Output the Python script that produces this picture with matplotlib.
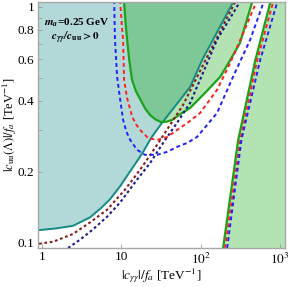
import numpy as np
import matplotlib
matplotlib.use('Agg')
import matplotlib.pyplot as plt
from matplotlib.ticker import NullLocator

plt.rcParams['font.family'] = ['Liberation Serif', 'DejaVu Serif']
plt.rcParams['mathtext.fontset'] = 'stix'

x_lim = [0.89, 1150]
y_lim = [0.095, 1.05]

# teal bound (filled above / left)
teal_x = [0.89, 1.5, 2.46, 4.0, 5.5, 7.2, 9.8, 12.5, 15.8, 18.8, 24, 32.6, 73.5, 104, 256, 280]
teal_y = [0.113, 0.115, 0.118, 0.128, 0.140, 0.153, 0.175, 0.198, 0.222, 0.243, 0.28, 0.323, 0.458, 0.596, 1.05, 1.12]

# green U bound (filled inside)
green_u_x = [10.6, 10.8, 11.3, 11.8, 12.6, 13.6, 15.2, 17.2, 20, 23.0, 27, 31.6, 37, 43.6, 58.0, 73.5, 113, 176, 235, 312, 444, 480]
green_u_y = [1.12, 1.05, 0.85, 0.725, 0.59, 0.491, 0.44, 0.407, 0.37, 0.348, 0.333, 0.325, 0.326, 0.332, 0.355, 0.373, 0.432, 0.506, 0.596, 0.704, 1.05, 1.12]

# green right bound (filled to the right)
green_r_x = [185, 191, 296, 487, 753, 800]
green_r_y = [0.09, 0.095, 0.273, 0.596, 1.05, 1.12]

red_u_x = [9.62, 10.1, 10.5, 10.8, 11.8, 13.7, 15.3, 17.2, 21.7, 28.2, 37.8, 50.4, 67.4, 98, 160, 235, 343, 500]
red_u_y = [1.07, 0.85, 0.725, 0.491, 0.41, 0.342, 0.318, 0.301, 0.278, 0.273, 0.281, 0.301, 0.322, 0.355, 0.445, 0.58, 0.776, 1.05]
red_r_x = [202, 314, 514, 816]
red_r_y = [0.095, 0.273, 0.596, 1.05]

blue_u_x = [8.1, 8.3, 8.83, 9.6, 10.5, 11.6, 12.9, 15.7, 19.8, 28.2, 37.6, 50.3, 67.1, 89.8, 160, 255, 418, 620]
blue_u_y = [1.07, 0.725, 0.506, 0.41, 0.332, 0.295, 0.273, 0.248, 0.236, 0.236, 0.243, 0.255, 0.265, 0.281, 0.355, 0.506, 0.725, 1.05]
blue_r_x = [215, 325, 560, 920]
blue_r_y = [0.095, 0.273, 0.596, 1.05]

dred_x = [0.917, 1.38, 2.46, 4.03, 6.6, 11.1, 17.2, 28.1, 41, 60, 107, 271]
dred_y = [0.099, 0.101, 0.109, 0.122, 0.138, 0.168, 0.204, 0.26, 0.316, 0.385, 0.568, 1.05]

navy_x = [2.13, 3.01, 4.39, 6.6, 9.6, 15.7, 23, 33.5, 50.3, 73.5, 160, 310]
navy_y = [0.095, 0.103, 0.114, 0.129, 0.148, 0.185, 0.218, 0.265, 0.323, 0.392, 0.725, 1.05]

y_ticks = [0.1, 0.2, 0.3, 0.4, 0.5, 0.6, 0.7, 0.8, 0.9, 1.0]
y_labels = ['0.1', '0.2', '', '0.4', '', '0.6', '', '0.8', '', '1']
x_ticks = [1, 10, 100, 1000]
x_labels = ['1', '10', '$10^2$', '$10^3$']

fig = plt.figure(figsize=(2.91, 2.87), dpi=100)
ax = fig.add_axes([38/291, 39/287, 247/291, 246/287])
ax.set_xscale('log')
ax.set_yscale('log')

top = y_lim[1] * 1.3
left = x_lim[0] * 0.8
right = x_lim[1] * 1.3

# fills
ax.fill(teal_x + [teal_x[-1], left, left], teal_y + [top, top, teal_y[0]],
        color='#008080', alpha=0.3, lw=0)
ax.fill(green_u_x, green_u_y, color='#05a500', alpha=0.3, lw=0)
ax.fill(green_r_x + [right, right], green_r_y + [green_r_y[-1], green_r_y[0]],
        color='#05a500', alpha=0.3, lw=0)

# boundaries
ax.plot(teal_x, teal_y, color='#138a82', lw=1.4)
ax.plot(green_u_x, green_u_y, color='#1aa31a', lw=1.6)
ax.plot(green_r_x, green_r_y, color='#1aa31a', lw=1.6)

ax.plot(dred_x, dred_y, color='#8b1a1a', lw=1.5, dashes=(1.3, 1.3))
ax.plot(navy_x, navy_y, color='#1a1a8b', lw=1.5, dashes=(1.3, 1.3))
ax.plot(red_u_x, red_u_y, color='#ff2020', lw=1.4, dashes=(2, 1.6))
ax.plot(red_r_x, red_r_y, color='#ff2020', lw=1.4, dashes=(2, 1.6))
ax.plot(blue_u_x, blue_u_y, color='#2020ff', lw=1.4, dashes=(2, 1.6))
ax.plot(blue_r_x, blue_r_y, color='#2020ff', lw=1.4, dashes=(2, 1.6))

ax.set_xlim(x_lim)
ax.set_ylim(y_lim)
ax.set_xticks(x_ticks, x_labels)
ax.set_yticks(y_ticks, y_labels)
ax.xaxis.set_minor_locator(NullLocator())
ax.yaxis.set_minor_locator(NullLocator())
ax.tick_params(direction='in', length=3, width=0.6, color='#999999', labelsize=9.5, pad=2.5)
for s in ax.spines.values():
    s.set_color('#a8a8a8')
    s.set_linewidth(1.0)

ax.set_xlabel(r'$|c_{\gamma\gamma}|/f_a$ [TeV$^{-1}$]', fontsize=9.5)
ax.set_ylabel(r'$|c_{\rm uu}(\Lambda)|/f_a$ [TeV$^{-1}$]', fontsize=9)
ax.xaxis.set_label_coords(0.5, -0.075)
ax.yaxis.set_label_coords(-0.078, 0.5)

ax.text(1.05, 0.856, r'$\mathbfit{m_a}$=0.25 GeV', fontsize=8, fontweight='bold', va='center')
ax.text(1.3, 0.74, r'$\mathbfit{c_{\gamma\gamma}/c}_{\mathbf{uu}}\mathbf{>0}$', fontsize=8, va='center')

fig.savefig('out.png', dpi=100)
